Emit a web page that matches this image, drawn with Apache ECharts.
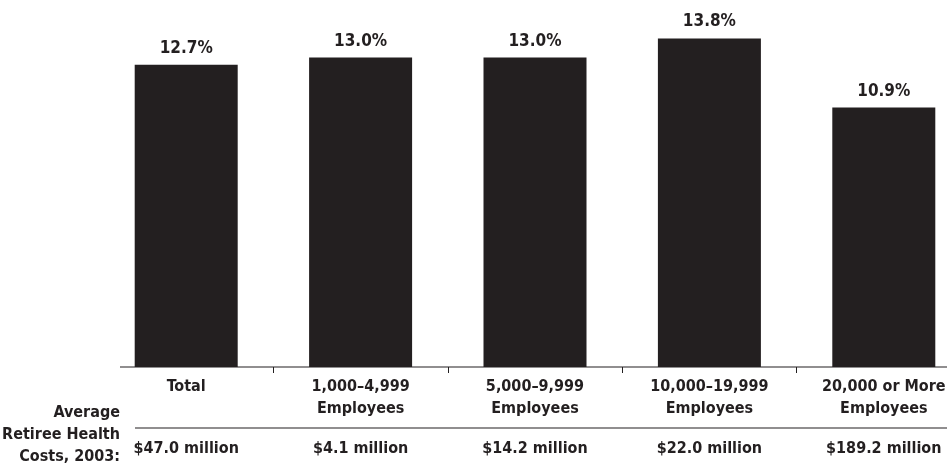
<!DOCTYPE html>
<html>
<head>
  <meta charset="utf-8" />
  <title>Retiree health costs</title>
  <style>
    html, body { margin: 0; padding: 0; background: #fff; }
    #main { width: 947px; height: 465px; }
  </style>
</head>
<body>
  <div id="main"></div>
  <script src="https://cdn.jsdelivr.net/npm/echarts@6/dist/echarts.min.js"></script>
  <script>
    let categories = ["Total", "1,000–4,999\nEmployees", "5,000–9,999\nEmployees", "10,000–19,999\nEmployees", "20,000 or More\nEmployees"];
    let shares = [12.7, 13.0, 13.0, 13.8, 10.9];
    let costs = ["$47.0 million", "$4.1 million", "$14.2 million", "$22.0 million", "$189.2 million"];
    let rowTitle = "Average\nRetiree Health\nCosts, 2003:";

    const ink = "#231f20";
    const font = "'DejaVu Sans Condensed', 'Liberation Sans Narrow', sans-serif";

    option = {
      animation: false,
      grid: {
        left: 99,
        width: 872,
        top: 10,
        height: 357,
        outerBoundsMode: "none",
        containLabel: false,
      },
      xAxis: [
        {
          type: "category",
          data: categories,
          axisLine: { show: false },
          axisTick: {
            show: true,
            length: 6,
            interval: function (i) { return i !== 0; },
            lineStyle: { color: ink, width: 1 },
          },
          axisLabel: {
            color: ink,
            fontFamily: font,
            fontWeight: "bold",
            fontSize: 16,
            lineHeight: 22,
            margin: 9,
            interval: 0,
          },
        },
        {
          type: "category",
          data: costs,
          position: "bottom",
          offset: 61,
          axisLine: { show: false },
          axisTick: { show: false },
          axisLabel: {
            color: ink,
            fontFamily: font,
            fontWeight: "bold",
            fontSize: 16,
            margin: 13,
            interval: 0,
          },
        },
      ],
      yAxis: {
        type: "value",
        min: 0,
        max: 15,
        show: false,
        splitLine: { show: false },
      },
      series: [
        {
          type: "bar",
          data: shares,
          barWidth: 103,
          itemStyle: { color: ink },
          label: {
            show: true,
            position: "top",
            distance: 8,
            color: ink,
            fontFamily: font,
            fontWeight: "bold",
            fontSize: 17,
            formatter: function (p) { return p.value.toFixed(1) + "%"; },
          },
        },
      ],
      graphic: [
        {
          type: "line",
          shape: { x1: 120, y1: 367, x2: 947, y2: 367 },
          style: { stroke: ink, lineWidth: 1.2 },
        },
        {
          type: "line",
          shape: { x1: 135, y1: 428, x2: 947, y2: 428 },
          style: { stroke: ink, lineWidth: 1.2 },
        },
        {
          type: "text",
          x: 120,
          y: 402,
          style: {
            text: rowTitle,
            fill: ink,
            fontFamily: font,
            fontWeight: "bold",
            fontSize: 16,
            lineHeight: 22,
            align: "right",
            textAlign: "right",
            verticalAlign: "top",
          },
        },
      ],
    };

    chartLine = echarts.init(document.getElementById("main"));
    chartLine.setOption(option);
  </script>
</body>
</html>
